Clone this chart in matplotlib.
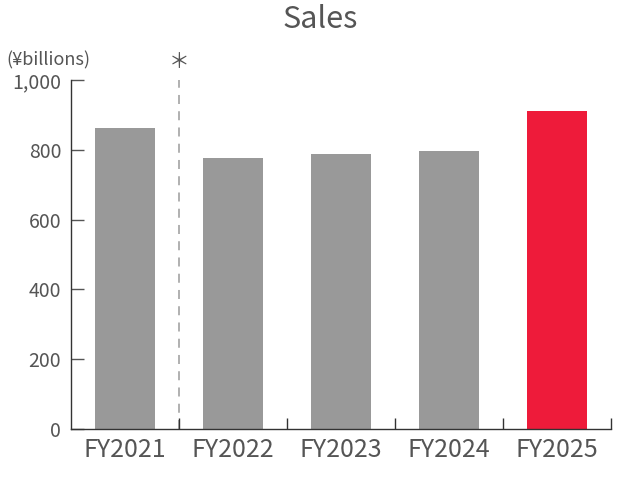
import matplotlib
matplotlib.use("Agg")
import matplotlib.pyplot as plt
import numpy as np

categories = ["FY2021", "FY2022", "FY2023", "FY2024", "FY2025"]
sales = [863, 777, 789, 797, 911]
bar_colors = ["#999999", "#999999", "#999999", "#999999", "#EE1B3A"]
yticks = [0, 200, 400, 600, 800, 1000]
ytick_labels = ["0", "200", "400", "600", "800", "1,000"]

plt.rcParams['font.family'] = ['Noto Sans CJK JP', 'DejaVu Sans']

fig = plt.figure(figsize=(6.4, 4.8), dpi=100)
ax = fig.add_axes([71/640, 51/480, 540/640, 349/480])

x = np.arange(len(categories))
ax.bar(x, sales, width=0.56, color=bar_colors, zorder=2)

ax.set_xlim(-0.5, len(categories) - 0.5)
ax.set_ylim(0, 1000)
ax.set_yticks(yticks)
ax.set_yticklabels(ytick_labels)
ax.set_xticks(x)
ax.set_xticklabels(categories)
ax.tick_params(axis='x', length=0, labelsize=18, colors='#555555', pad=6)
ax.tick_params(axis='y', direction='in', length=9, width=1, color='#555555', labelsize=14,
               labelcolor='#555555', pad=7)
ax.set_xticks(np.arange(0.5, len(categories), 1.0), minor=True)
ax.tick_params(axis='x', which='minor', direction='in', length=8, width=1, color='#333333')

for s in ['top', 'right']:
    ax.spines[s].set_visible(False)
for s in ['left', 'bottom']:
    ax.spines[s].set_color('#333333')
    ax.spines[s].set_linewidth(1)

# dashed separator between FY2021 and FY2022
ax.axvline(0.5, ymin=0, ymax=1, color='#AAAAAA', linestyle=(0, (5, 4)), linewidth=1.3, zorder=1)
ax.text(0.5, 1.02, "＊", transform=ax.get_xaxis_transform(), ha='center', va='bottom',
        fontsize=15, color='#555555')

fig.text(6/640, 1 - 60/480, "(¥billions)", ha='left', va='center', fontsize=13, color='#555555')
fig.text(0.5, 1 - 20/480, "Sales", ha='center', va='center', fontsize=22, color='#555555')

fig.savefig("out.png", dpi=100)
